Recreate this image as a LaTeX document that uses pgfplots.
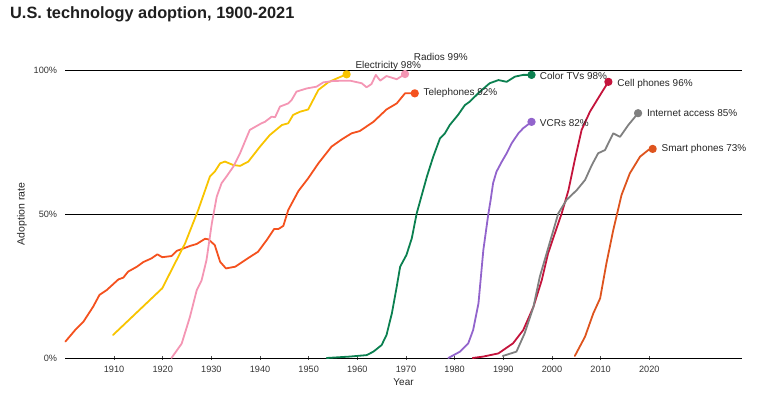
\documentclass[border=0pt]{standalone}
\usepackage{pgfplots}
\pgfplotsset{compat=1.18}
\usepackage{fontspec}
\setmainfont{Liberation Sans}
\definecolor{tel}{RGB}{244,81,30}
\definecolor{ele}{RGB}{248,196,0}
\definecolor{rad}{RGB}{244,150,180}
\definecolor{ctv}{RGB}{11,128,80}
\definecolor{vcr}{RGB}{146,100,204}
\definecolor{cel}{RGB}{196,20,60}
\definecolor{net}{RGB}{128,128,128}
\definecolor{smp}{RGB}{222,84,30}
\begin{document}
\begin{tikzpicture}
\useasboundingbox (0,0) rectangle (758bp,394bp);
\node[anchor=base west, inner sep=0, font=\fontsize{16.4}{18}\selectfont\bfseries, text=black!88] at (10bp,375.5bp) {U.S. technology adoption, 1900-2021};
\begin{axis}[
  at={(65.4bp,36bp)}, anchor=south west,
  scale only axis, width=676.3bp, height=288bp,
  xmin=1900, xmax=2039, ymin=0, ymax=100,
  clip=false,
  axis x line=bottom, axis y line=left,
  x axis line style={-, black, line width=0.8bp},
  y axis line style={draw=none},
  xtick={1910,1920,...,2020},
  ytick={0,50,100}, yticklabels={0\%,50\%,100\%},
  ymajorgrids, grid style={black, line width=0.8bp},
  major tick length=3.5bp, xtick style={black!70, line width=0.6bp},
  ytick style={draw=none},
  /pgf/number format/1000 sep={},
  /pgf/number format/assume math mode=true,
  tick label style={font=\fontsize{9.2}{11}\selectfont, text=black!80},
  xticklabel style={anchor=base, yshift=-12.5bp},
  yticklabel style={anchor=east, xshift=-3bp},
  xlabel={Year}, ylabel={Adoption rate},
  every axis x label/.style={at={(axis description cs:0.5,-0.0823)}, anchor=center, font=\fontsize{10}{12}\selectfont, text=black!85},
  every axis y label/.style={at={(axis description cs:-0.0642,0.5)}, rotate=90, anchor=center, font=\fontsize{10.5}{12}\selectfont, text=black!85},
  every axis plot/.append style={line width=1.8bp, line join=round, line cap=round, mark=none},
]
% Telephones
\addplot[tel] coordinates {(1900,5.7)(1902.0,9.7)(1903.7,12.6)(1905.7,17.8)(1907.0,21.9)(1908.5,23.6)(1910.9,27.3)(1911.9,27.9)(1912.9,30.0)(1914.7,31.7)(1916.0,33.3)(1917.7,34.6)(1918.9,36.0)(1919.9,35.0)(1921.8,35.4)(1922.9,37.2)(1924.2,38.0)(1925.6,38.9)(1927.0,39.6)(1928.7,41.4)(1929.4,41.2)(1930.7,39.2)(1931.8,33.4)(1933.0,31.1)(1934.9,31.7)(1937.3,34.4)(1939.6,36.9)(1941.4,41.0)(1942.9,44.8)(1943.8,44.8)(1944.8,45.9)(1945.8,51.4)(1947.9,58.0)(1949.9,62.4)(1952.0,67.6)(1954.7,73.4)(1956.8,75.9)(1958.8,78.0)(1960.5,78.8)(1963.3,82.0)(1966.0,86.3)(1968.1,88.4)(1969.8,91.9)(1971.8,91.9)};
\addplot[tel, mark=*, mark size=3.2bp, only marks] coordinates {(1971.8,91.9)};
% Electricity
\addplot[ele] coordinates {(1909.8,8.0)(1919.9,24.2)(1924.6,39.8)(1927.3,51.4)(1929.7,63.0)(1930.7,64.7)(1931.8,67.6)(1932.8,68.2)(1934.5,67.0)(1935.9,66.7)(1937.6,68.2)(1940.0,73.4)(1942.0,77.4)(1944.5,80.9)(1945.8,81.5)(1946.8,84.4)(1948.2,85.5)(1949.9,86.3)(1952.0,93.1)(1954.0,95.7)(1955.8,97.1)(1957.8,98.5)};
\addplot[ele, mark=*, mark size=3.2bp, only marks] coordinates {(1957.8,98.5)};
% Radios
\addplot[rad] coordinates {(1921.8,0)(1923.9,5.0)(1925.6,14.3)(1927.0,23.6)(1928.0,27.0)(1929.0,34.0)(1930.1,46.8)(1931.1,56.0)(1932.1,60.7)(1933.1,63.0)(1934.5,66.4)(1935.9,71.1)(1937.3,76.8)(1937.9,79.2)(1940.3,81.5)(1941.0,82.0)(1942.4,83.8)(1943.1,83.6)(1944.1,87.3)(1945.8,88.4)(1946.5,89.6)(1947.5,92.5)(1949.6,93.6)(1951.6,94.2)(1953.0,95.7)(1955.1,96.2)(1958.5,96.3)(1960.9,95.4)(1961.9,94.0)(1962.9,95.1)(1963.8,98.3)(1964.7,96.3)(1966.0,97.9)(1968.1,96.8)(1969.8,98.6)};
\addplot[rad, mark=*, mark size=3.2bp, only marks] coordinates {(1969.8,98.6)};
% Color TVs
\addplot[ctv] coordinates {(1953.7,0)(1958.5,0.5)(1961.9,1.0)(1963.3,2.2)(1965.0,4.5)(1966.0,8.0)(1967.1,15.5)(1968.1,24.8)(1968.8,31.7)(1970.1,35.8)(1971.2,41.6)(1972.2,50.2)(1974.3,63.0)(1975.6,69.9)(1977.0,76.3)(1978.0,78.0)(1979.0,80.9)(1980.7,84.4)(1982.1,87.8)(1983.1,89.0)(1985.2,92.5)(1987.2,95.4)(1989.0,96.5)(1990.7,95.9)(1992.4,97.7)(1994.1,98.3)(1995.8,98.3)};
\addplot[ctv, mark=*, mark size=3.2bp, only marks] coordinates {(1995.8,98.3)};
% VCRs
\addplot[vcr] coordinates {(1978.7,0)(1981.1,2.2)(1982.8,5.1)(1983.8,9.7)(1984.9,19.0)(1985.9,37.5)(1986.9,49.7)(1987.4,54.9)(1987.9,60.7)(1988.6,64.7)(1989.7,68.2)(1990.7,71.1)(1991.7,74.5)(1993.1,78.0)(1994.1,79.8)(1995.8,82.0)};
\addplot[vcr, mark=*, mark size=3.2bp, only marks] coordinates {(1995.8,82.0)};
% Cell phones
\addplot[cel] coordinates {(1983.7,0)(1985.9,0.5)(1989.0,1.6)(1992.0,5.1)(1994.1,9.7)(1996.2,17.8)(1997.9,27.0)(1999.2,36.3)(2000.6,43.3)(2002.0,50.2)(2003.4,58.3)(2004.7,68.8)(2006.1,79.2)(2007.8,85.5)(2009.9,91.3)(2011.6,95.9)};
\addplot[cel, mark=*, mark size=3.2bp, only marks] coordinates {(2011.6,95.9)};
% Internet access
\addplot[net] coordinates {(1989.9,0.7)(1992.7,2.2)(1994.4,8.6)(1996.2,17.8)(1997.5,28.2)(1998.9,36.3)(2000.3,44.4)(2001.3,50.2)(2003.0,54.9)(2005.1,58.3)(2006.8,61.8)(2008.2,67.0)(2009.5,71.1)(2010.9,72.2)(2012.6,78.0)(2014.0,76.8)(2015.7,80.9)(2017.7,85.0)};
\addplot[net, mark=*, mark size=3.2bp, only marks] coordinates {(2017.7,85.0)};
% Smart phones
\addplot[smp] coordinates {(2004.7,0.7)(2006.8,7.4)(2008.5,15.5)(2009.9,20.7)(2011.2,32.9)(2012.6,44.4)(2014.3,56.6)(2016.0,64.1)(2018.1,69.9)(2019.8,72.2)(2020.7,72.6)};
\addplot[smp, mark=*, mark size=3.2bp, only marks] coordinates {(2020.7,72.6)};
% labels
\begin{scope}[every node/.style={anchor=west, inner sep=0, font=\fontsize{10}{12}\selectfont, text=black!85}]
\node at (axis cs:1959.6,101.5) {Electricity 98\%};
\node at (axis cs:1971.6,104.6) {Radios 99\%};
\node at (axis cs:1973.6,91.9) {Telephones 92\%};
\node at (axis cs:1997.5,98.0) {Color TVs 98\%};
\node at (axis cs:1997.5,81.7) {VCRs 82\%};
\node at (axis cs:2013.4,95.0) {Cell phones 96\%};
\node at (axis cs:2019.5,85.2) {Internet access 85\%};
\node at (axis cs:2022.5,72.7) {Smart phones 73\%};
\end{scope}
\end{axis}
\end{tikzpicture}
\end{document}
